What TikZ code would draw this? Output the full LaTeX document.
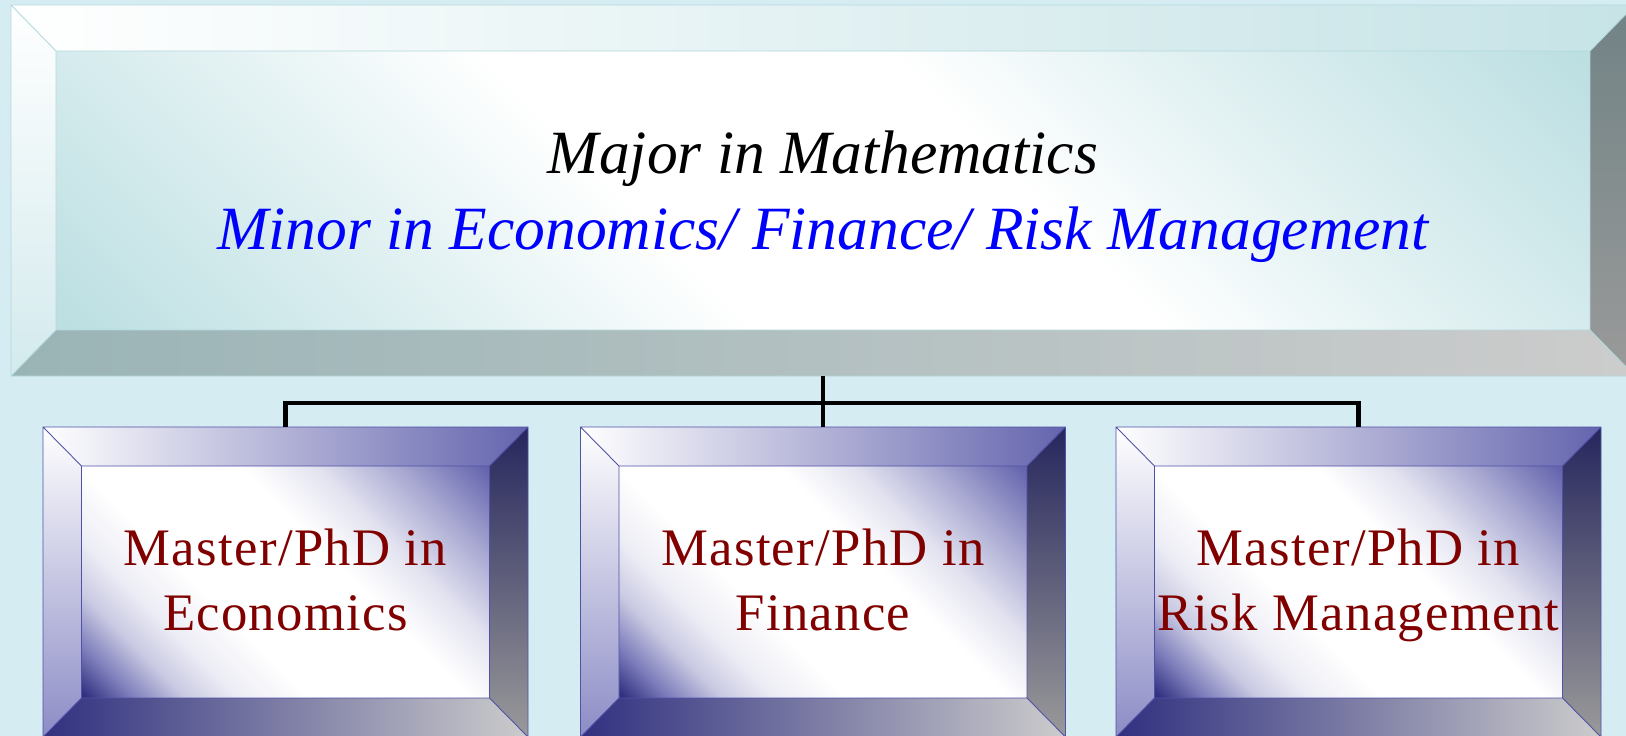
\documentclass[tikz,border=0pt]{standalone}
\usepackage{fontspec}
\setmainfont{Liberation Serif}
\usepackage{xcolor}
\usepackage{tikz}
\usetikzlibrary{shadings}

\definecolor{bgblue}{HTML}{D5ECF2}
\definecolor{tealedge}{HTML}{B3D9DE}
\definecolor{tealface}{HTML}{BCDFE2}
\definecolor{tealtop}{HTML}{C6E3E6}
\definecolor{tealside}{HTML}{D3EAED}
\definecolor{tealbot}{HTML}{9AB4B6}
\definecolor{slate}{HTML}{718385}
\definecolor{navy}{HTML}{303080}
\definecolor{lilac}{HTML}{6464AE}
\definecolor{lilacside}{HTML}{8C8CC6}
\definecolor{inkblue}{HTML}{26265E}
\definecolor{blueedge}{HTML}{5151A8}
\definecolor{lightgray}{HTML}{CCCCCC}
\definecolor{midgray}{HTML}{9A9A9A}
\definecolor{darkred}{HTML}{800000}

% diagonal face shadings, used with shading angle=45
\pgfdeclarehorizontalshading{tealglass}{100bp}{color(0bp)=(tealface); color(15bp)=(tealface); color(32bp)=(tealface!40!white); color(42bp)=(white); color(58bp)=(white); color(68bp)=(tealface!40!white); color(85bp)=(tealface); color(100bp)=(tealface)}
\pgfdeclarehorizontalshading{blueglass}{100bp}{color(0bp)=(navy); color(15bp)=(navy); color(20bp)=(lilac!85!white); color(26bp)=(lilac!35!white); color(32bp)=(lilac!12!white); color(40bp)=(white); color(58bp)=(white); color(66bp)=(lilac!18!white); color(75bp)=(lilac!55!white); color(85bp)=(lilac); color(100bp)=(lilac)}

\begin{document}
\begin{tikzpicture}[
    frame/.style={rectangle, inner sep=0pt, outer sep=0pt},
    face/.style={rectangle, inner sep=0pt, outer sep=0pt, shading angle=45},
    bigtext/.style={font=\fontsize{35}{42.7}\selectfont\itshape, align=center, inner sep=0pt},
    degree/.style={font=\fontsize{30}{37}\selectfont\addfontfeatures{LetterSpace=2.5}, text=darkred, align=center, inner sep=0pt},
    branch/.style={line width=2.3pt, black}
]
\useasboundingbox (0,0) rectangle (32.52,-14.72);
\clip (0,0) rectangle (32.52,-14.72);
\fill[bgblue] (0,0) rectangle (32.52,-14.72);

% top box
\node[frame, minimum width=32.48cm, minimum height=7.42cm] (major) at (16.46,-3.81) {};
\node[face, shading=tealglass, minimum width=30.68cm, minimum height=5.58cm] (major-face) at (major.center) {};
\shade[left color=white, right color=tealtop] (major.north west) -- (major.north east) -- (major-face.north east) -- (major-face.north west) -- cycle;
\shade[top color=white, bottom color=tealside] (major.north west) -- (major-face.north west) -- (major-face.south west) -- (major.south west) -- cycle;
\shade[left color=tealbot, right color=lightgray] (major.south west) -- (major-face.south west) -- (major-face.south east) -- (major.south east) -- cycle;
\shade[top color=slate, bottom color=midgray] (major.north east) -- (major-face.north east) -- (major-face.south east) -- (major.south east) -- cycle;
\draw[tealedge, line width=0.5pt] (major.north west) rectangle (major.south east)
    (major-face.north west) rectangle (major-face.south east)
    (major.north west) -- (major-face.north west) (major.north east) -- (major-face.north east)
    (major.south west) -- (major-face.south west) (major.south east) -- (major-face.south east);
\node[bigtext] (major-text) at ([yshift=-0.12cm]major-face.center)
    {Major in Mathematics\strut\\\textcolor{blue}{Minor in Economics/ Finance/ Risk Management}\strut};

% three degree boxes
\node[frame, minimum width=9.7cm, minimum height=6.2cm] (econ) at (5.71,-11.64) {};
\node[frame, minimum width=9.7cm, minimum height=6.2cm] (fin)  at (16.46,-11.64) {};
\node[frame, minimum width=9.7cm, minimum height=6.2cm] (risk) at (27.17,-11.64) {};

\foreach \b in {econ,fin,risk} {
  \node[face, shading=blueglass, minimum width=8.16cm, minimum height=4.64cm] (\b-face) at (\b.center) {};
  \shade[left color=white, middle color=lilac!45!white, right color=lilac] (\b.north west) -- (\b.north east) -- (\b-face.north east) -- (\b-face.north west) -- cycle;
  \shade[top color=white, bottom color=lilacside] (\b.north west) -- (\b-face.north west) -- (\b-face.south west) -- (\b.south west) -- cycle;
  \shade[left color=navy, right color=lightgray] (\b.south west) -- (\b-face.south west) -- (\b-face.south east) -- (\b.south east) -- cycle;
  \shade[top color=inkblue, bottom color=midgray] (\b.north east) -- (\b-face.north east) -- (\b-face.south east) -- (\b.south east) -- cycle;
  \draw[blueedge, line width=0.5pt] (\b.north west) rectangle (\b.south east)
      (\b-face.north west) rectangle (\b-face.south east)
      (\b.north west) -- (\b-face.north west) (\b.north east) -- (\b-face.north east)
      (\b.south west) -- (\b-face.south west) (\b.south east) -- (\b-face.south east);
}

\node[degree] (econ-text) at ([yshift=-0.06cm]econ-face.center) {Master/PhD in\strut\\Economics\strut};
\node[degree] (fin-text)  at ([yshift=-0.06cm]fin-face.center)  {Master/PhD in\strut\\Finance\strut};
\node[degree] (risk-text) at ([yshift=-0.06cm]risk-face.center) {Master/PhD in\strut\\Risk Management\strut};

% connectors
\draw[branch] (major.south) -- (fin.north);
\draw[branch] (econ.north) -- ++(0,0.48) -| (risk.north);
\end{tikzpicture}
\end{document}
